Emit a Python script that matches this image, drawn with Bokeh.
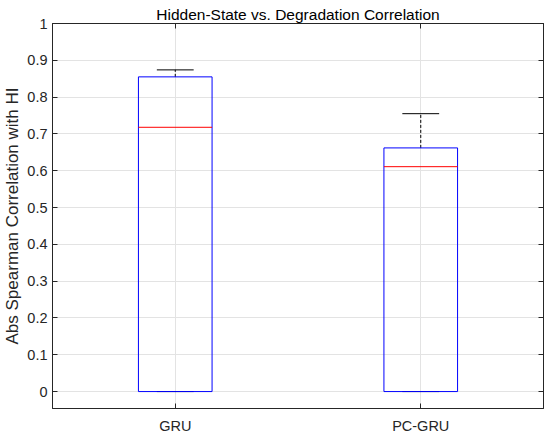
from bokeh.plotting import figure
from bokeh.models import (Range1d, FixedTicker, LinearAxis, ColumnDataSource,
                          CustomJSTickFormatter)
from bokeh.embed import file_html
from bokeh.resources import INLINE

# ---- data ----
categories = ["GRU", "PC-GRU"]
lower = [0.0, 0.0]
q1 = [0.0, 0.0]
median = [0.718, 0.611]
q3 = [0.855, 0.662]
upper = [0.874, 0.755]
y_ticks = [0, 0.1, 0.2, 0.3, 0.4, 0.5, 0.6, 0.7, 0.8, 0.9, 1.0]
y_label = "Abs Spearman Correlation with HI"
title_text = "Hidden-State vs. Degradation Correlation"

# ---- styles ----
FONT = "Liberation Sans"
AX = "#262626"
BOX_HALF = 0.15
CAP_HALF = 0.075

xs = list(range(1, len(categories) + 1))
src = ColumnDataSource(dict(
    x=xs,
    xl=[x - BOX_HALF for x in xs],
    xr=[x + BOX_HALF for x in xs],
    cl=[x - CAP_HALF for x in xs],
    cr=[x + CAP_HALF for x in xs],
    lower=lower, q1=q1, median=median, q3=q3, upper=upper,
))

p = figure(
    frame_width=491, frame_height=385,
    min_border_left=44, min_border_right=2, min_border_top=23, min_border_bottom=20,
    x_range=Range1d(0.5, 2.5), y_range=Range1d(-0.046, 1.0),
    output_backend="svg", toolbar_location=None,
    title=title_text,
)
p.background_fill_color = "white"
p.border_fill_color = "white"
p.outline_line_color = AX
p.outline_line_width = 1

p.title.text_font = FONT
p.title.text_font_size = "15.5px"
p.title.text_font_style = "normal"
p.title.text_color = "black"
p.title.align = "center"
p.title.standoff = 2

# grid
for g in (p.xgrid, p.ygrid):
    g.grid_line_color = "#e3e3e3"
    g.grid_line_width = 1

# x axis
p.xaxis.ticker = FixedTicker(ticks=xs)
p.xaxis.major_label_overrides = {x: c for x, c in zip(xs, categories)}
# y axis
p.yaxis.ticker = FixedTicker(ticks=y_ticks)
p.yaxis.formatter = CustomJSTickFormatter(code="return tick.toFixed(1).replace(/\\.0$/, '');")
p.yaxis.axis_label = y_label
p.yaxis.axis_label_text_font = FONT
p.yaxis.axis_label_text_font_size = "17px"
p.yaxis.axis_label_text_font_style = "normal"
p.yaxis.axis_label_text_color = AX
p.yaxis.axis_label_standoff = 2

for ax in (p.xaxis, p.yaxis):
    ax.axis_line_color = AX
    ax.major_tick_line_color = AX
    ax.major_tick_in = 5
    ax.major_tick_out = 0
    ax.minor_tick_line_color = None
    ax.major_label_text_font = FONT
    ax.major_label_text_font_size = "14.5px"
    ax.major_label_text_color = AX
p.yaxis.major_label_standoff = 5
p.xaxis.major_label_standoff = 9

# mirrored axes (box on)
blank = CustomJSTickFormatter(code="return '';")
top = LinearAxis(ticker=FixedTicker(ticks=xs), formatter=blank,
                 major_label_standoff=0,
                 major_tick_in=5, major_tick_out=0, minor_tick_line_color=None,
                 axis_line_color=AX, major_tick_line_color=AX)
right = LinearAxis(ticker=FixedTicker(ticks=y_ticks), formatter=blank,
                   major_label_standoff=0,
                   major_tick_in=5, major_tick_out=0, minor_tick_line_color=None,
                   axis_line_color=AX, major_tick_line_color=AX)
p.add_layout(top, "above")
p.add_layout(right, "right")

# whiskers (dashed)
p.segment(x0="x", y0="q3", x1="x", y1="upper", source=src,
          line_color="black", line_dash="3 2", line_width=1)
p.segment(x0="x", y0="lower", x1="x", y1="q1", source=src,
          line_color="black", line_dash="3 2", line_width=1)
# caps
p.segment(x0="cl", y0="upper", x1="cr", y1="upper", source=src,
          line_color="black", line_width=1)
p.segment(x0="cl", y0="lower", x1="cr", y1="lower", source=src,
          line_color="black", line_width=1)
# boxes
p.quad(left="xl", right="xr", bottom="q1", top="q3", source=src,
       fill_color=None, line_color="#0000ff", line_width=1)
# medians
p.segment(x0="xl", y0="median", x1="xr", y1="median", source=src,
          line_color="#ff0000", line_width=1)

open("out.html", "w").write(file_html(p, INLINE))
